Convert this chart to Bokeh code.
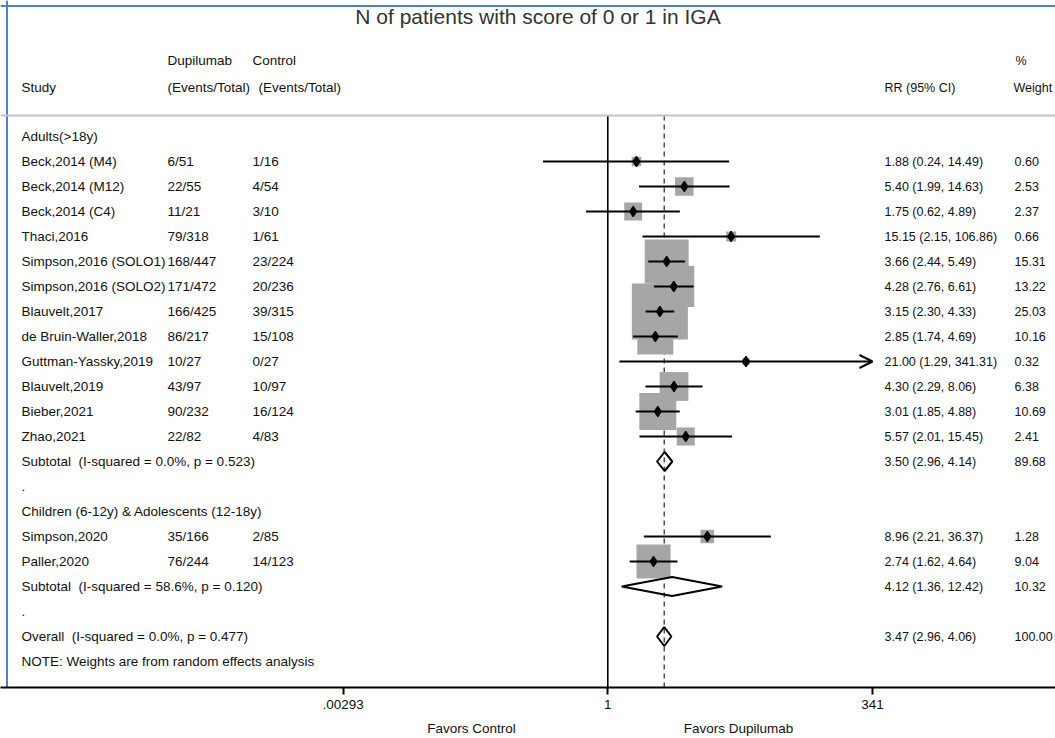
import math
from bokeh.plotting import figure
from bokeh.models import (Range1d, FixedTicker, Span, Arrow, OpenHead,
                          ColumnDataSource, LinearScale, LinearAxis)
from bokeh.embed import file_html
from bokeh.resources import INLINE
from bokeh.core.properties import value

# ---------------- data ----------------
title_text = "N of patients with score of 0 or 1 in IGA"
groups = ["Adults(>18y)", "Children (6-12y) & Adolescents (12-18y)"]
studies = ["Beck,2014 (M4)", "Beck,2014 (M12)", "Beck,2014 (C4)", "Thaci,2016",
           "Simpson,2016 (SOLO1)", "Simpson,2016 (SOLO2)", "Blauvelt,2017",
           "de Bruin-Waller,2018", "Guttman-Yassky,2019", "Blauvelt,2019",
           "Bieber,2021", "Zhao,2021", "Simpson,2020", "Paller,2020"]
study_group = [0, 0, 0, 0, 0, 0, 0, 0, 0, 0, 0, 0, 1, 1]
dupi = ["6/51", "22/55", "11/21", "79/318", "168/447", "171/472", "166/425",
        "86/217", "10/27", "43/97", "90/232", "22/82", "35/166", "76/244"]
ctrl = ["1/16", "4/54", "3/10", "1/61", "23/224", "20/236", "39/315",
        "15/108", "0/27", "10/97", "16/124", "4/83", "2/85", "14/123"]
rr = [1.88, 5.40, 1.75, 15.15, 3.66, 4.28, 3.15, 2.85, 21.00, 4.30, 3.01, 5.57, 8.96, 2.74]
lo = [0.24, 1.99, 0.62, 2.15, 2.44, 2.76, 2.30, 1.74, 1.29, 2.29, 1.85, 2.01, 2.21, 1.62]
hi = [14.49, 14.63, 4.89, 106.86, 5.49, 6.61, 4.33, 4.69, 341.31, 8.06, 4.88, 15.45, 36.37, 4.64]
wt = [0.60, 2.53, 2.37, 0.66, 15.31, 13.22, 25.03, 10.16, 0.32, 6.38, 10.69, 2.41, 1.28, 9.04]

sub_labels = ["Subtotal  (I-squared = 0.0%, p = 0.523)", "Subtotal  (I-squared = 58.6%, p = 0.120)"]
sub_rr = [3.50, 4.12]
sub_lo = [2.96, 1.36]
sub_hi = [4.14, 12.42]
sub_wt = [89.68, 10.32]

overall_label = "Overall  (I-squared = 0.0%, p = 0.477)"
ov_rr = 3.47
ov_lo = 2.96
ov_hi = 4.06
ov_wt = 100.00

note_text = "NOTE: Weights are from random effects analysis"
header1 = ["Dupilumab", "Control", "%"]
header2 = ["Study", "(Events/Total)", "(Events/Total)", "RR (95% CI)", "Weight"]
tick_vals = [0.00293, 1, 341]
tick_labels = [".00293", "1", "341"]
favors = ["Favors Control", "Favors Dupilumab"]

# ---------------- layout ----------------
FONT = value("Liberation Sans")
W, H = 1055, 738
AXIS_Y = 687                        # page px of the axis line
PX0, PXDEC = 607.3, 104.5           # page px of RR=1, px per decade
def page_y_to_row(y):
    return (y - 136.0) / 25.0

def keep_spaces(s):
    return s.replace("  ", " \u00a0")

rows_study = []
row_group = []
row_sub = []
row_dot = []
r = 0
for g in range(len(groups)):
    row_group.append(r); r += 1
    for i, sg in enumerate(study_group):
        if sg == g:
            rows_study.append(r); r += 1
    row_sub.append(r); r += 1
    row_dot.append(r); r += 1
row_overall = r; r += 1
row_note = r

x_max = tick_vals[-1]
axis_row = page_y_to_row(AXIS_Y)
top_line_row = page_y_to_row(115)

p = figure(width=W, height=H, x_axis_type="log",
           x_range=Range1d(10 ** ((0 - PX0) / PXDEC), 10 ** ((W - PX0) / PXDEC)),
           y_range=Range1d(page_y_to_row(AXIS_Y), page_y_to_row(0)),
           output_backend="svg", toolbar_location=None, y_axis_location=None,
           min_border_left=0, min_border_right=0, min_border_top=0,
           min_border_bottom=H - AXIS_Y)
p.extra_x_ranges = {"px": Range1d(0, W)}
p.extra_x_scales = {"px": LinearScale()}
p.outline_line_color = None
p.xgrid.visible = False
p.ygrid.visible = False
p.background_fill_color = "white"
p.border_fill_color = "white"

ax = p.xaxis[0]
ax.ticker = FixedTicker(ticks=tick_vals)
ax.major_label_overrides = {v: l for v, l in zip(tick_vals, tick_labels)}
ax.axis_line_width = 2
ax.axis_line_color = "black"
ax.major_tick_line_width = 2
ax.major_tick_line_color = "black"
ax.major_tick_out = 7
ax.major_tick_in = 0
ax.minor_tick_line_color = None
ax.major_label_standoff = 5
ax.major_label_text_font = "Liberation Sans"
ax.major_label_text_font_size = "13.5px"
ax.major_label_text_color = "#111111"

# second axis carrying the "Favors" captions
fav_x = [471, 738]
ax2 = LinearAxis(x_range_name="px", ticker=FixedTicker(ticks=fav_x),
                 major_label_overrides={x: t for x, t in zip(fav_x, favors)},
                 axis_line_color=None, major_tick_line_color=None,
                 minor_tick_line_color=None, major_tick_out=0, major_tick_in=0,
                 major_label_standoff=9, major_label_text_font="Liberation Sans",
                 major_label_text_font_size="13.5px", major_label_text_color="#111111")
p.add_layout(ax2, "below")

# blue frame edges (left and top)
p.segment(x0=[6.5, 0], y0=[page_y_to_row(AXIS_Y), page_y_to_row(5.5)],
          x1=[6.5, W], y1=[page_y_to_row(0), page_y_to_row(5.5)],
          x_range_name="px", line_color="#4f81bd", line_width=2)

# header separator
p.add_layout(Span(location=top_line_row, dimension="width", line_color="#c4c4c4", line_width=2))

# null line and overall line
p.segment(x0=[1], y0=[top_line_row], x1=[1], y1=[axis_row], line_color="black", line_width=1.6)
p.segment(x0=[ov_rr], y0=[top_line_row], x1=[ov_rr], y1=[axis_row],
          line_color="#505050", line_width=1.5, line_dash="5 4")

# boxes (area proportional to weight)
side = [11.0 * math.sqrt(w) + 1.0 for w in wt]
p.scatter(x=rr, y=rows_study, marker="square", size=side, fill_color="#a6a6a6",
          line_color=None)

# CI lines (clipped ones get an arrow)
seg_x0, seg_x1, seg_y = [], [], []
for i in range(len(rr)):
    if hi[i] > x_max:
        p.add_layout(Arrow(end=OpenHead(size=13, line_width=2, line_color="black"),
                           x_start=lo[i], y_start=rows_study[i], x_end=x_max,
                           y_end=rows_study[i], line_width=2, line_color="black"))
    else:
        seg_x0.append(lo[i]); seg_x1.append(hi[i]); seg_y.append(rows_study[i])
p.segment(x0=seg_x0, y0=seg_y, x1=seg_x1, y1=seg_y, line_color="black", line_width=2)

p.scatter(x=rr, y=rows_study, marker="diamond", size=11, fill_color="black",
          line_color="black")

# diamonds
d_est = sub_rr + [ov_rr]
d_lo = sub_lo + [ov_lo]
d_hi = sub_hi + [ov_hi]
d_row = row_sub + [row_overall]
hh = 0.38
xs = [[l, e, h, e] for l, e, h in zip(d_lo, d_est, d_hi)]
ys = [[rw, rw - hh, rw, rw + hh] for rw in d_row]
p.patches(xs=xs, ys=ys, fill_alpha=0, line_color="black", line_width=2)

# ---------------- texts ----------------
def fmt_ci(e, l, h):
    return "%.2f (%.2f, %.2f)" % (e, l, h)

left_txt, left_x, left_y = [], [], []
right_txt, right_x, right_y = [], [], []

for g, rw in zip(groups, row_group):
    left_txt.append(g); left_x.append(21); left_y.append(rw)
for i, rw in enumerate(rows_study):
    left_txt += [studies[i], dupi[i], ctrl[i]]
    left_x += [21, 167, 252]
    left_y += [rw, rw, rw]
    right_txt += [fmt_ci(rr[i], lo[i], hi[i]), "%.2f" % wt[i]]
    right_x += [884, 1014]
    right_y += [rw, rw]
for k, rw in enumerate(row_sub):
    left_txt.append(keep_spaces(sub_labels[k])); left_x.append(21); left_y.append(rw)
    right_txt += [fmt_ci(sub_rr[k], sub_lo[k], sub_hi[k]), "%.2f" % sub_wt[k]]
    right_x += [884, 1014]
    right_y += [rw, rw]
for rw in row_dot:
    left_txt.append("."); left_x.append(21); left_y.append(rw)
left_txt.append(keep_spaces(overall_label)); left_x.append(21); left_y.append(row_overall)
right_txt += [fmt_ci(ov_rr, ov_lo, ov_hi), "%.2f" % ov_wt]
right_x += [884, 1014]
right_y += [row_overall, row_overall]
left_txt.append(note_text); left_x.append(21); left_y.append(row_note)

h1y = page_y_to_row(60)
h2y = page_y_to_row(87)
left_txt += [header1[0], header1[1]]
left_x += [167, 252]
left_y += [h1y, h1y]
left_txt += [header2[0], header2[1], header2[2]]
left_x += [21, 167, 258]
left_y += [h2y, h2y, h2y]
right_txt += [header1[2], header2[3], header2[4]]
right_x += [1015, 884, 1013]
right_y += [h1y, h2y, h2y]

p.text(x="x", y="y", text="t", x_range_name="px",
       source=ColumnDataSource(dict(x=left_x, y=left_y, t=left_txt)),
       text_font=FONT, text_font_size="13.5px", text_color="#111111",
       text_align="left", text_baseline="middle")
p.text(x="x", y="y", text="t", x_range_name="px",
       source=ColumnDataSource(dict(x=right_x, y=right_y, t=right_txt)),
       text_font=FONT, text_font_size="12.5px", text_color="#111111",
       text_align="left", text_baseline="middle")

p.text(x=[537.5], y=[page_y_to_row(16)], text=[title_text], x_range_name="px",
       text_font=FONT, text_font_size="21px", text_color="#333333",
       text_align="center", text_baseline="middle")

open("out.html", "w").write(file_html(p, INLINE))
